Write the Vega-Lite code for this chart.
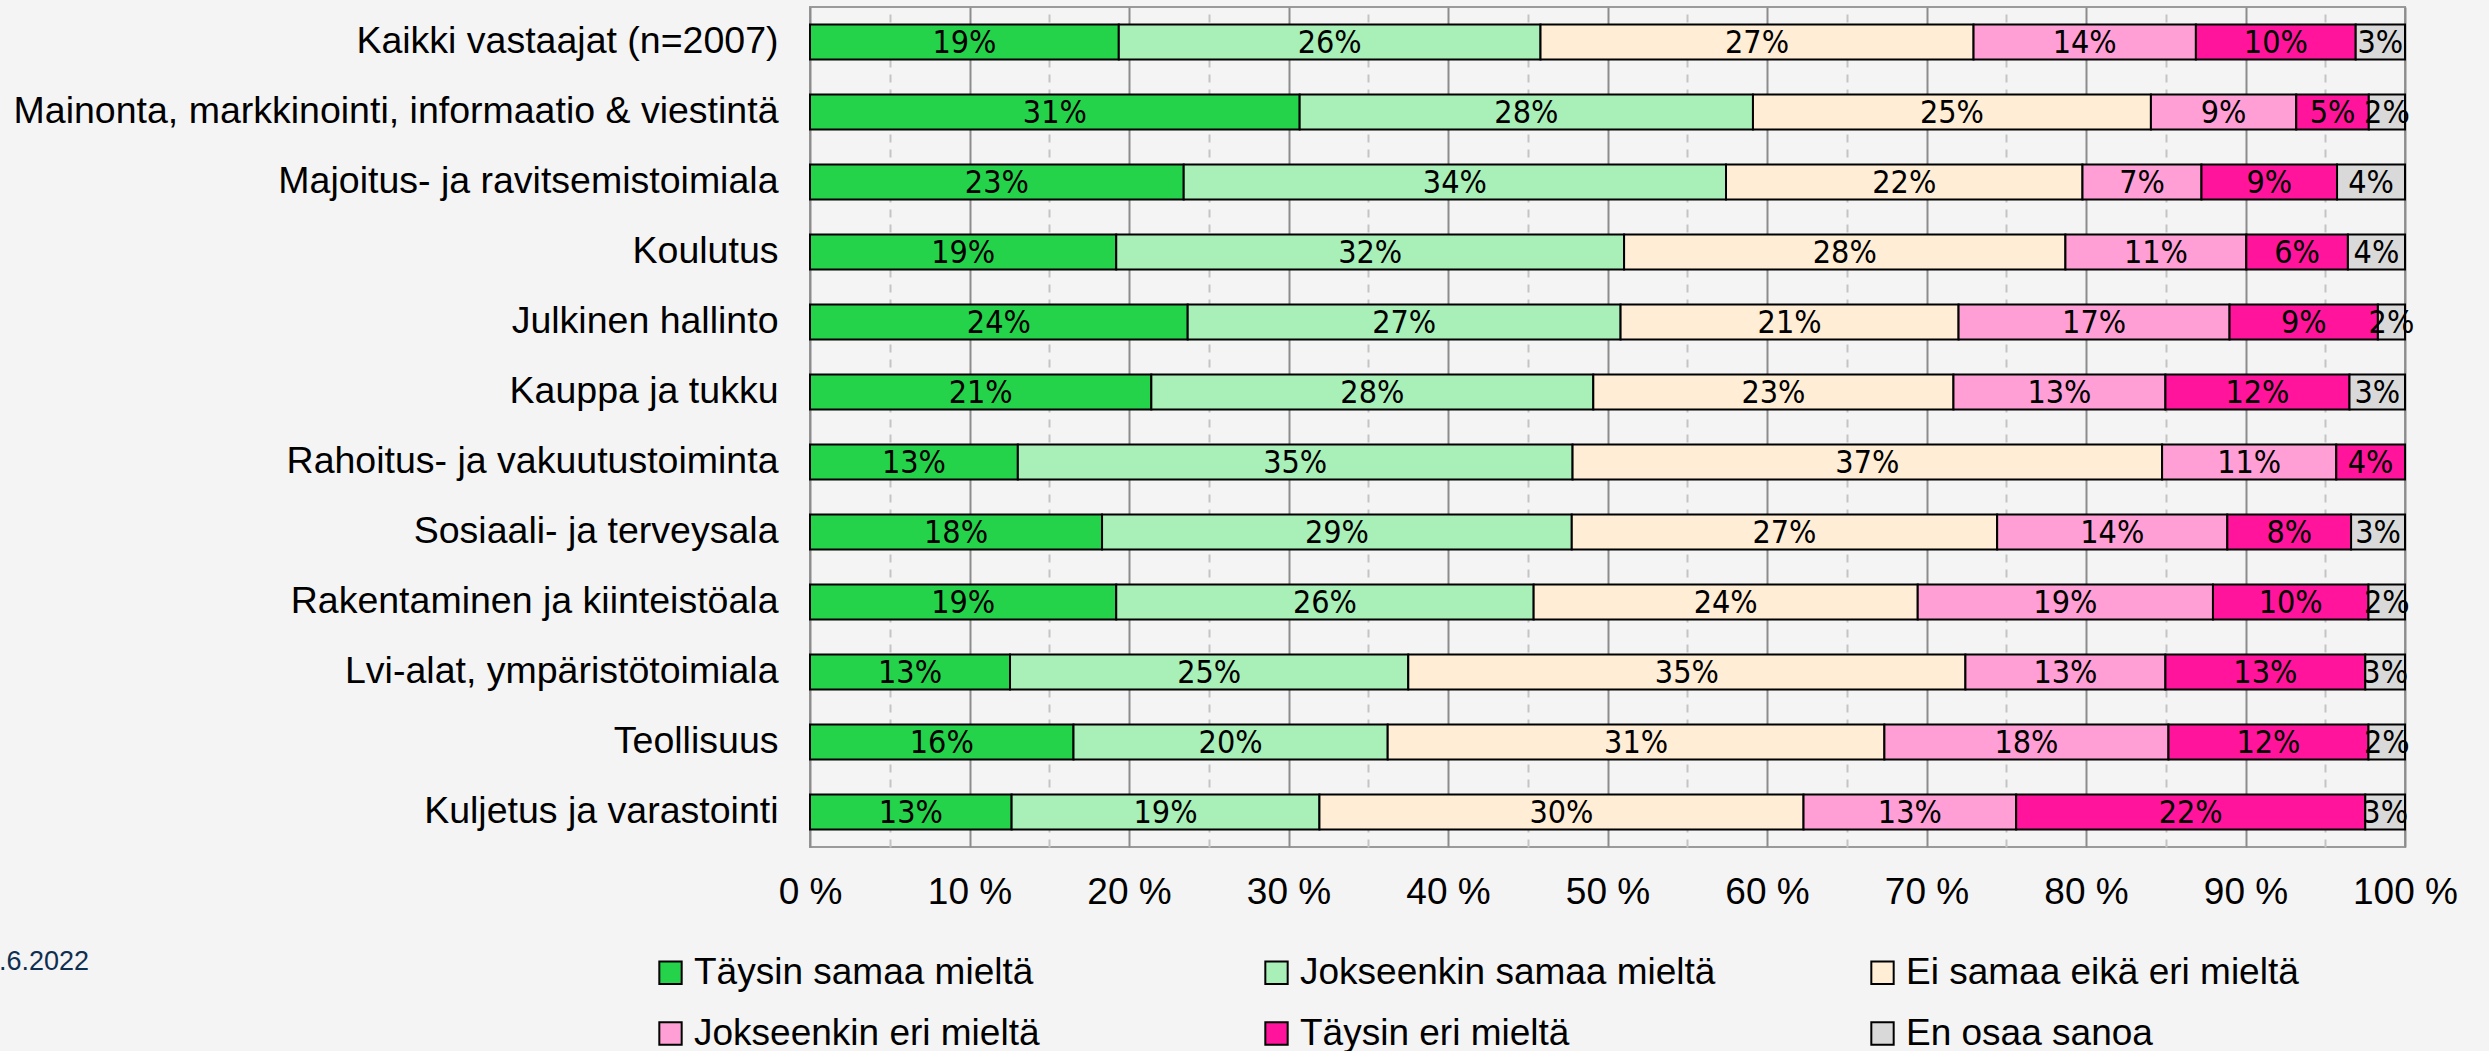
{
  "$schema": "https://vega.github.io/schema/vega-lite/v6.json",
  "width": 1595,
  "height": 840,
  "autosize": "none",
  "padding": {"left": 810, "top": 7, "right": 84, "bottom": 204},
  "background": "#F4F4F4",
  "config": {
    "view": {"stroke": "#9A9A9A", "strokeWidth": 2},
    "font": "Liberation Sans"
  },
  "title": {
    "text": ".6.2022",
    "orient": "bottom",
    "anchor": "start",
    "frame": "group",
    "dx": -811,
    "offset": -103,
    "fontSize": 27,
    "fontWeight": "normal",
    "font": "Liberation Sans",
    "color": "#0E2F50"
  },
  "data": {
    "values": [
      {"group": "Kaikki vastaajat (n=2007)", "answer": "Täysin samaa mieltä", "pct": 19.36, "label": "19%"},
      {"group": "Kaikki vastaajat (n=2007)", "answer": "Jokseenkin samaa mieltä", "pct": 26.44, "label": "26%"},
      {"group": "Kaikki vastaajat (n=2007)", "answer": "Ei samaa eikä eri mieltä", "pct": 27.15, "label": "27%"},
      {"group": "Kaikki vastaajat (n=2007)", "answer": "Jokseenkin eri mieltä", "pct": 13.94, "label": "14%"},
      {"group": "Kaikki vastaajat (n=2007)", "answer": "Täysin eri mieltä", "pct": 10.02, "label": "10%"},
      {"group": "Kaikki vastaajat (n=2007)", "answer": "En osaa sanoa", "pct": 3.09, "label": "3%"},

      {"group": "Mainonta, markkinointi, informaatio & viestintä", "answer": "Täysin samaa mieltä", "pct": 30.70, "label": "31%"},
      {"group": "Mainonta, markkinointi, informaatio & viestintä", "answer": "Jokseenkin samaa mieltä", "pct": 28.42, "label": "28%"},
      {"group": "Mainonta, markkinointi, informaatio & viestintä", "answer": "Ei samaa eikä eri mieltä", "pct": 24.95, "label": "25%"},
      {"group": "Mainonta, markkinointi, informaatio & viestintä", "answer": "Jokseenkin eri mieltä", "pct": 9.11, "label": "9%"},
      {"group": "Mainonta, markkinointi, informaatio & viestintä", "answer": "Täysin eri mieltä", "pct": 4.55, "label": "5%"},
      {"group": "Mainonta, markkinointi, informaatio & viestintä", "answer": "En osaa sanoa", "pct": 2.27, "label": "2%"},

      {"group": "Majoitus- ja ravitsemistoimiala", "answer": "Täysin samaa mieltä", "pct": 23.43, "label": "23%"},
      {"group": "Majoitus- ja ravitsemistoimiala", "answer": "Jokseenkin samaa mieltä", "pct": 34.00, "label": "34%"},
      {"group": "Majoitus- ja ravitsemistoimiala", "answer": "Ei samaa eikä eri mieltä", "pct": 22.35, "label": "22%"},
      {"group": "Majoitus- ja ravitsemistoimiala", "answer": "Jokseenkin eri mieltä", "pct": 7.46, "label": "7%"},
      {"group": "Majoitus- ja ravitsemistoimiala", "answer": "Täysin eri mieltä", "pct": 8.50, "label": "9%"},
      {"group": "Majoitus- ja ravitsemistoimiala", "answer": "En osaa sanoa", "pct": 4.26, "label": "4%"},

      {"group": "Koulutus", "answer": "Täysin samaa mieltä", "pct": 19.20, "label": "19%"},
      {"group": "Koulutus", "answer": "Jokseenkin samaa mieltä", "pct": 31.84, "label": "32%"},
      {"group": "Koulutus", "answer": "Ei samaa eikä eri mieltä", "pct": 27.67, "label": "28%"},
      {"group": "Koulutus", "answer": "Jokseenkin eri mieltä", "pct": 11.34, "label": "11%"},
      {"group": "Koulutus", "answer": "Täysin eri mieltä", "pct": 6.37, "label": "6%"},
      {"group": "Koulutus", "answer": "En osaa sanoa", "pct": 3.58, "label": "4%"},

      {"group": "Julkinen hallinto", "answer": "Täysin samaa mieltä", "pct": 23.68, "label": "24%"},
      {"group": "Julkinen hallinto", "answer": "Jokseenkin samaa mieltä", "pct": 27.14, "label": "27%"},
      {"group": "Julkinen hallinto", "answer": "Ei samaa eikä eri mieltä", "pct": 21.19, "label": "21%"},
      {"group": "Julkinen hallinto", "answer": "Jokseenkin eri mieltä", "pct": 16.99, "label": "17%"},
      {"group": "Julkinen hallinto", "answer": "Täysin eri mieltä", "pct": 9.30, "label": "9%"},
      {"group": "Julkinen hallinto", "answer": "En osaa sanoa", "pct": 1.70, "label": "2%"},

      {"group": "Kauppa ja tukku", "answer": "Täysin samaa mieltä", "pct": 21.40, "label": "21%"},
      {"group": "Kauppa ja tukku", "answer": "Jokseenkin samaa mieltä", "pct": 27.71, "label": "28%"},
      {"group": "Kauppa ja tukku", "answer": "Ei samaa eikä eri mieltä", "pct": 22.58, "label": "23%"},
      {"group": "Kauppa ja tukku", "answer": "Jokseenkin eri mieltä", "pct": 13.29, "label": "13%"},
      {"group": "Kauppa ja tukku", "answer": "Täysin eri mieltä", "pct": 11.54, "label": "12%"},
      {"group": "Kauppa ja tukku", "answer": "En osaa sanoa", "pct": 3.48, "label": "3%"},

      {"group": "Rahoitus- ja vakuutustoiminta", "answer": "Täysin samaa mieltä", "pct": 13.03, "label": "13%"},
      {"group": "Rahoitus- ja vakuutustoiminta", "answer": "Jokseenkin samaa mieltä", "pct": 34.78, "label": "35%"},
      {"group": "Rahoitus- ja vakuutustoiminta", "answer": "Ei samaa eikä eri mieltä", "pct": 36.96, "label": "37%"},
      {"group": "Rahoitus- ja vakuutustoiminta", "answer": "Jokseenkin eri mieltä", "pct": 10.92, "label": "11%"},
      {"group": "Rahoitus- ja vakuutustoiminta", "answer": "Täysin eri mieltä", "pct": 4.31, "label": "4%"},

      {"group": "Sosiaali- ja terveysala", "answer": "Täysin samaa mieltä", "pct": 18.31, "label": "18%"},
      {"group": "Sosiaali- ja terveysala", "answer": "Jokseenkin samaa mieltä", "pct": 29.45, "label": "29%"},
      {"group": "Sosiaali- ja terveysala", "answer": "Ei samaa eikä eri mieltä", "pct": 26.67, "label": "27%"},
      {"group": "Sosiaali- ja terveysala", "answer": "Jokseenkin eri mieltä", "pct": 14.43, "label": "14%"},
      {"group": "Sosiaali- ja terveysala", "answer": "Täysin eri mieltä", "pct": 7.76, "label": "8%"},
      {"group": "Sosiaali- ja terveysala", "answer": "En osaa sanoa", "pct": 3.38, "label": "3%"},

      {"group": "Rakentaminen ja kiinteistöala", "answer": "Täysin samaa mieltä", "pct": 19.20, "label": "19%"},
      {"group": "Rakentaminen ja kiinteistöala", "answer": "Jokseenkin samaa mieltä", "pct": 26.17, "label": "26%"},
      {"group": "Rakentaminen ja kiinteistöala", "answer": "Ei samaa eikä eri mieltä", "pct": 24.08, "label": "24%"},
      {"group": "Rakentaminen ja kiinteistöala", "answer": "Jokseenkin eri mieltä", "pct": 18.51, "label": "19%"},
      {"group": "Rakentaminen ja kiinteistöala", "answer": "Täysin eri mieltä", "pct": 9.75, "label": "10%"},
      {"group": "Rakentaminen ja kiinteistöala", "answer": "En osaa sanoa", "pct": 2.29, "label": "2%"},

      {"group": "Lvi-alat, ympäristötoimiala", "answer": "Täysin samaa mieltä", "pct": 12.54, "label": "13%"},
      {"group": "Lvi-alat, ympäristötoimiala", "answer": "Jokseenkin samaa mieltä", "pct": 24.97, "label": "25%"},
      {"group": "Lvi-alat, ympäristötoimiala", "answer": "Ei samaa eikä eri mieltä", "pct": 34.93, "label": "35%"},
      {"group": "Lvi-alat, ympäristötoimiala", "answer": "Jokseenkin eri mieltä", "pct": 12.54, "label": "13%"},
      {"group": "Lvi-alat, ympäristötoimiala", "answer": "Täysin eri mieltä", "pct": 12.53, "label": "13%"},
      {"group": "Lvi-alat, ympäristötoimiala", "answer": "En osaa sanoa", "pct": 2.49, "label": "3%"},

      {"group": "Teollisuus", "answer": "Täysin samaa mieltä", "pct": 16.52, "label": "16%"},
      {"group": "Teollisuus", "answer": "Jokseenkin samaa mieltä", "pct": 19.70, "label": "20%"},
      {"group": "Teollisuus", "answer": "Ei samaa eikä eri mieltä", "pct": 31.14, "label": "31%"},
      {"group": "Teollisuus", "answer": "Jokseenkin eri mieltä", "pct": 17.81, "label": "18%"},
      {"group": "Teollisuus", "answer": "Täysin eri mieltä", "pct": 12.54, "label": "12%"},
      {"group": "Teollisuus", "answer": "En osaa sanoa", "pct": 2.29, "label": "2%"},

      {"group": "Kuljetus ja varastointi", "answer": "Täysin samaa mieltä", "pct": 12.64, "label": "13%"},
      {"group": "Kuljetus ja varastointi", "answer": "Jokseenkin samaa mieltä", "pct": 19.30, "label": "19%"},
      {"group": "Kuljetus ja varastointi", "answer": "Ei samaa eikä eri mieltä", "pct": 30.35, "label": "30%"},
      {"group": "Kuljetus ja varastointi", "answer": "Jokseenkin eri mieltä", "pct": 13.33, "label": "13%"},
      {"group": "Kuljetus ja varastointi", "answer": "Täysin eri mieltä", "pct": 21.89, "label": "22%"},
      {"group": "Kuljetus ja varastointi", "answer": "En osaa sanoa", "pct": 2.49, "label": "3%"}
    ]
  },
  "transform": [
    {"calculate": "indexof(['Täysin samaa mieltä','Jokseenkin samaa mieltä','Ei samaa eikä eri mieltä','Jokseenkin eri mieltä','Täysin eri mieltä','En osaa sanoa'], datum.answer)", "as": "ord"},
    {"stack": "pct", "groupby": ["group"], "sort": [{"field": "ord", "order": "ascending"}], "as": ["x0", "x1"]},
    {"calculate": "(datum.x0 + datum.x1) / 2", "as": "xmid"}
  ],
  "encoding": {
    "y": {
      "field": "group",
      "type": "nominal",
      "sort": ["Kaikki vastaajat (n=2007)", "Mainonta, markkinointi, informaatio & viestintä", "Majoitus- ja ravitsemistoimiala", "Koulutus", "Julkinen hallinto", "Kauppa ja tukku", "Rahoitus- ja vakuutustoiminta", "Sosiaali- ja terveysala", "Rakentaminen ja kiinteistöala", "Lvi-alat, ympäristötoimiala", "Teollisuus", "Kuljetus ja varastointi"],
      "scale": {"paddingInner": 0.5, "paddingOuter": 0.25},
      "axis": {
        "title": null,
        "domain": false,
        "ticks": false,
        "tickSize": 0,
        "grid": false,
        "labelPadding": 32,
        "labelFontSize": 37.5,
        "labelFont": "Liberation Sans",
        "labelColor": "#000000",
        "labelLimit": 2000
      }
    }
  },
  "layer": [
    {
      "mark": {"type": "bar", "stroke": "#000000", "strokeWidth": 2},
      "encoding": {
        "x": {
          "field": "x0",
          "type": "quantitative",
          "scale": {"domain": [0, 100], "nice": false, "zero": true},
          "axis": {
            "title": null,
            "values": [0, 5, 10, 15, 20, 25, 30, 35, 40, 45, 50, 55, 60, 65, 70, 75, 80, 85, 90, 95, 100],
            "labelExpr": "datum.value % 10 === 0 ? datum.value + ' %' : ''",
            "labelOverlap": false,
            "labelFlush": false,
            "domain": false,
            "ticks": false,
            "tickSize": 0,
            "labelPadding": 27,
            "labelFontSize": 37,
            "labelFont": "Liberation Sans",
            "labelColor": "#000000",
            "grid": true,
            "gridWidth": 2,
            "gridColor": {"condition": {"test": "datum.value % 10 !== 0", "value": "#C4C4C4"}, "value": "#8C8C8C"},
            "gridDash": {"condition": {"test": "datum.value % 10 !== 0", "value": [8, 7]}, "value": []}
          }
        },
        "x2": {"field": "x1"},
        "color": {
          "field": "answer",
          "type": "nominal",
          "scale": {
            "domain": ["Täysin samaa mieltä", "Jokseenkin samaa mieltä", "Ei samaa eikä eri mieltä", "Jokseenkin eri mieltä", "Täysin eri mieltä", "En osaa sanoa"],
            "range": ["#25D34B", "#A8EFB8", "#FFEDD5", "#FF9FD6", "#FF149B", "#D9D9D9"]
          },
          "legend": {
            "title": null,
            "orient": "none",
            "legendX": -158,
            "legendY": 947,
            "columns": 3,
            "direction": "horizontal",
            "gridAlign": "all",
            "columnPadding": 148,
            "rowPadding": 23,
            "symbolType": "square",
            "symbolSize": 500,
            "symbolStrokeColor": "#000000",
            "symbolStrokeWidth": 2,
            "symbolOpacity": 1,
            "labelFontSize": 37,
            "labelFont": "Liberation Sans",
            "labelColor": "#000000",
            "labelLimit": 2000,
            "labelOffset": 5
          }
        }
      }
    },
    {
      "mark": {"type": "text", "font": "DejaVu Sans Condensed, DejaVu Sans, sans-serif", "fontSize": 32, "color": "#000000", "baseline": "middle", "align": "center", "dy": 1},
      "encoding": {
        "x": {"field": "xmid", "type": "quantitative"},
        "text": {"field": "label", "type": "nominal"}
      }
    }
  ]
}
